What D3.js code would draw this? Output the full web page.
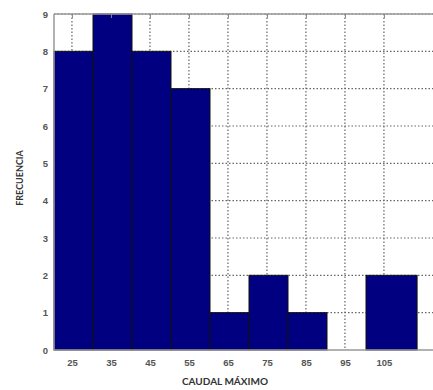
<!DOCTYPE html>
<html>
<head>
<meta charset="utf-8">
<script src="https://cdn.jsdelivr.net/npm/d3@7"></script>
<style>
  body { margin: 0; background: #fff; }
  svg { display: block; font-family: Lato, "Open Sans", sans-serif; }
</style>
</head>
<body>
<div id="chart"></div>
<script>
// Histogram of caudal máximo
const binStarts = [20.4, 30.4, 40.4, 50.4, 60.4, 70.4, 80.4, 90.4, 100.4];
const binEnds   = [30.4, 40.4, 50.4, 60.4, 70.4, 80.4, 90.4, 100.4, 113.5];
const frequencies = [8, 9, 8, 7, 1, 2, 1, 0, 2];
const xTickValues = [25, 35, 45, 55, 65, 75, 85, 95, 105];
const yTickValues = [0, 1, 2, 3, 4, 5, 6, 7, 8, 9];

const width = 433, height = 390;
const margin = { top: 14, right: -10, bottom: 40, left: 54 };
const innerW = width - margin.left - margin.right;
const innerH = height - margin.top - margin.bottom;

const x = d3.scaleLinear().domain([20.4, 20.4 + innerW / 3.9]).range([0, innerW]);
const y = d3.scaleLinear().domain([0, 9]).range([innerH, 0]);

const svg = d3.select('#chart').append('svg')
  .attr('width', width)
  .attr('height', height);

const g = svg.append('g').attr('transform', `translate(${margin.left},${margin.top})`);

// Grid (dotted, behind the bars)
g.append('g').selectAll('line')
  .data(xTickValues)
  .join('line')
  .attr('x1', d => x(d)).attr('x2', d => x(d))
  .attr('y1', 0).attr('y2', innerH)
  .attr('stroke', '#666').attr('stroke-width', 1.2).attr('stroke-dasharray', '1.5,2');

g.append('g').selectAll('line')
  .data(yTickValues.filter(d => d > 0))
  .join('line')
  .attr('x1', 0).attr('x2', innerW)
  .attr('y1', d => y(d)).attr('y2', d => y(d))
  .attr('stroke', '#666').attr('stroke-width', 1.2).attr('stroke-dasharray', '1.5,2');

// Bars
const bins = frequencies.map((f, i) => ({ x0: binStarts[i], x1: binEnds[i], f }));
g.append('g').selectAll('rect')
  .data(bins.filter(d => d.f > 0))
  .join('rect')
  .attr('x', d => x(d.x0))
  .attr('width', d => x(d.x1) - x(d.x0))
  .attr('y', d => y(d.f))
  .attr('height', d => y(0) - y(d.f))
  .attr('fill', '#000080')
  .attr('stroke', '#111')
  .attr('stroke-width', 1);

// Box lines
g.append('line').attr('x1', 0).attr('x2', innerW).attr('y1', 0).attr('y2', 0)
  .attr('stroke', '#999').attr('stroke-width', 1.5);
g.append('line').attr('x1', 0).attr('x2', innerW).attr('y1', innerH).attr('y2', innerH)
  .attr('stroke', '#999').attr('stroke-width', 1.5);
g.append('line').attr('x1', 0).attr('x2', 0).attr('y1', 0).attr('y2', innerH)
  .attr('stroke', '#999').attr('stroke-width', 1.5);

// small tick marks along the top border
g.append('g')
  .call(d3.axisTop(x).tickValues(xTickValues).tickSize(-4).tickFormat(''))
  .call(a => a.select('.domain').remove())
  .selectAll('line').attr('stroke', '#888');

// Axes
const xAxis = g.append('g')
  .attr('transform', `translate(0,${innerH})`)
  .call(d3.axisBottom(x).tickValues(xTickValues).tickSize(0).tickPadding(9));
xAxis.select('.domain').remove();

const yAxis = g.append('g')
  .call(d3.axisLeft(y).tickValues(yTickValues).tickSize(0).tickPadding(6));
yAxis.select('.domain').remove();

svg.selectAll('.tick text')
  .attr('font-size', 9.5)
  .attr('font-weight', 'bold')
  .attr('fill', '#555');

// Axis titles
svg.append('text')
  .attr('x', 225).attr('y', 385)
  .attr('text-anchor', 'middle')
  .attr('font-size', 10).attr('font-weight', 'bold').attr('fill', '#333')
  .text('CAUDAL MÁXIMO');

svg.append('text')
  .attr('transform', 'translate(23,178) rotate(-90)')
  .attr('text-anchor', 'middle')
  .attr('font-size', 9).attr('font-weight', 'bold').attr('fill', '#333')
  .text('FRECUENCIA');
</script>
</body>
</html>
